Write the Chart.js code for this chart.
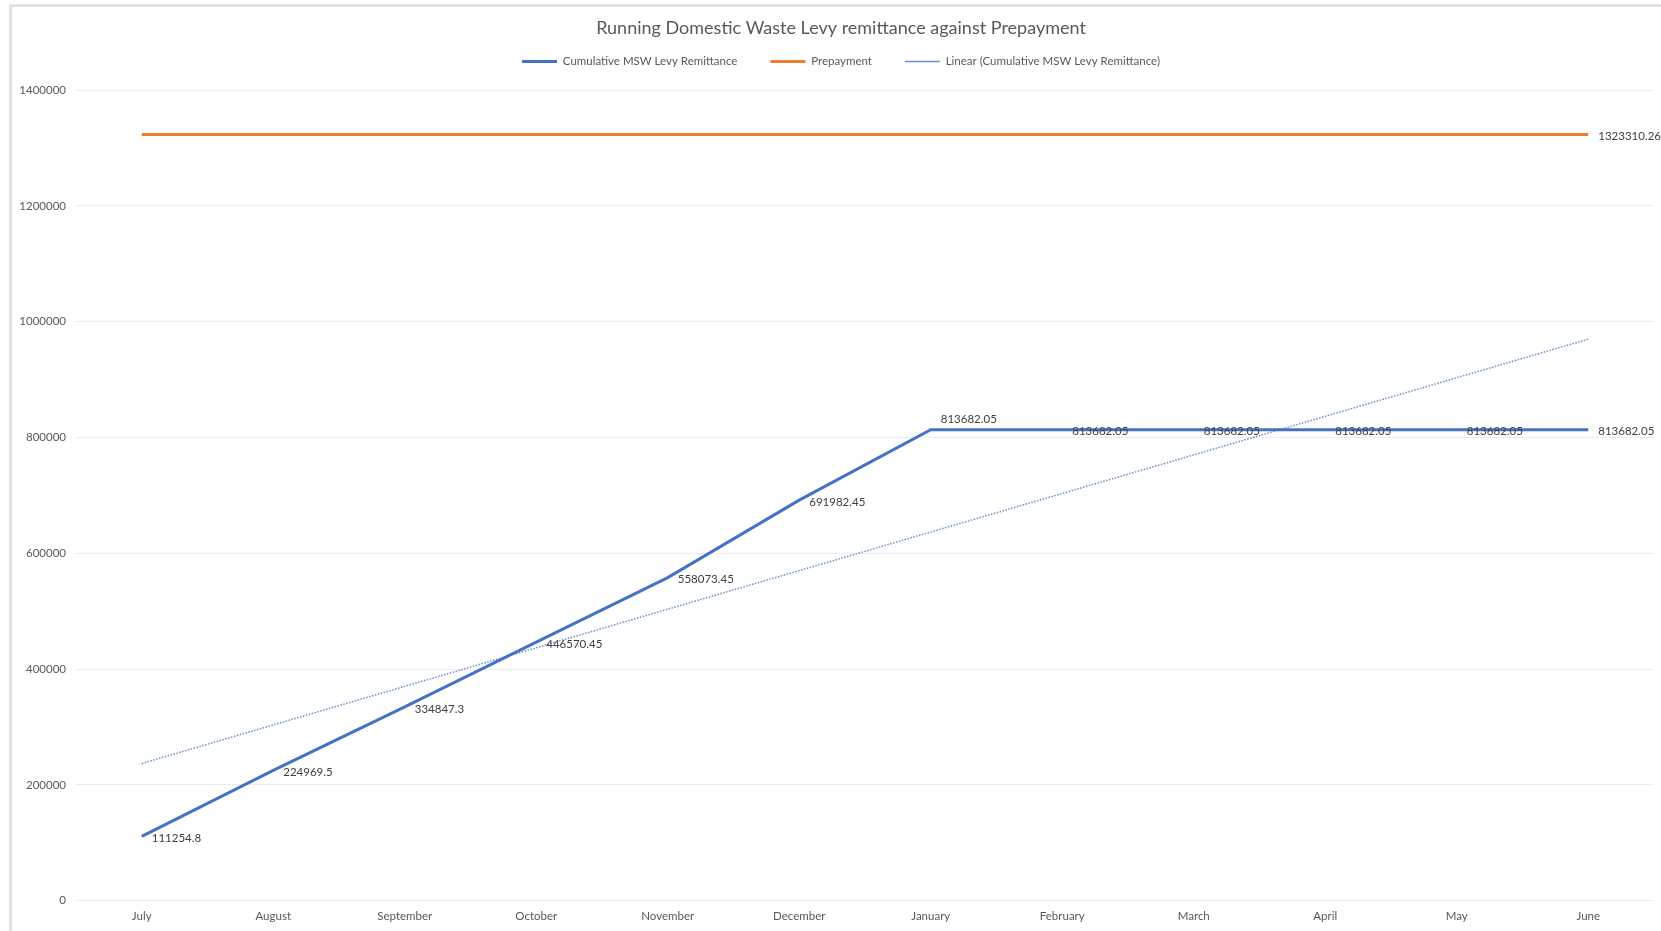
<!DOCTYPE html>
<html>
<head>
<meta charset="utf-8">
<script src="https://cdn.jsdelivr.net/npm/chart.js@4.4.1/dist/chart.umd.min.js"></script>
<style>
  html, body { margin: 0; padding: 0; background: #fff; overflow: hidden; }
  #frame { position: absolute; left: 9px; top: 4px; width: 1700px; height: 960px;
           border-left: 3px solid #e4e4e4; border-top: 3px solid #e4e4e4; }
  #wrap { position: absolute; left: 0; top: 0; width: 1661px; height: 931px; }
</style>
</head>
<body>
<div id="frame"></div>
<div id="wrap"><canvas id="myChart"></canvas></div>
<script>
const months = ["July", "August", "September", "October", "November", "December",
  "January", "February", "March", "April", "May", "June"];
const remittance = [111254.8, 224969.5, 334847.3, 446570.45, 558073.45, 691982.45,
  813682.05, 813682.05, 813682.05, 813682.05, 813682.05, 813682.05];
const prepayment = [1323310.26, 1323310.26, 1323310.26, 1323310.26, 1323310.26, 1323310.26,
  1323310.26, 1323310.26, 1323310.26, 1323310.26, 1323310.26, 1323310.26];
// trend line ends, middle left empty
const trend = [237000, null, null, null, null, null, null, null, null, null, null, 970000];
const yTicks = [0, 200000, 400000, 600000, 800000, 1000000, 1200000, 1400000];

const textGrey = "#595959";
const fontName = "Lato, 'Open Sans', sans-serif";

// draw value labels next to the points, like excel does
const valueLabels = {
  id: "valueLabels",
  afterDatasetsDraw(chart) {
    const c = chart.ctx;
    c.save();
    c.font = "11.5px " + fontName;
    c.fillStyle = "#404040";
    c.textBaseline = "middle";
    c.textAlign = "left";
    chart.data.datasets.forEach(function (ds, i) {
      if (!ds.showValues) return;
      const meta = chart.getDatasetMeta(i);
      meta.data.forEach(function (pt, j) {
        if (ds.showValues === "last" && j !== meta.data.length - 1) return;
        let dy = 2;
        if (i === 0 && j === 6) dy = -10;
        c.fillText(String(ds.data[j]), pt.x + 10, pt.y + dy);
      });
    });
    c.restore();
  },
};

// more room under the legend, and title + legend centred on the whole
// box (it runs past the right edge of the window)
const headerTweak = {
  id: "headerTweak",
  afterInit(chart) {
    const fit = chart.legend.fit;
    chart.legend.fit = function () {
      fit.call(this);
      this.height += 13;
    };
    [chart.legend, chart.titleBlock].forEach(function (box) {
      const draw = box.draw;
      box.draw = function () {
        chart.ctx.save();
        chart.ctx.translate(14, 0);
        draw.apply(this, arguments);
        chart.ctx.restore();
      };
    });
  },
};

const ctx = document.getElementById("myChart").getContext("2d");
const myChart = new Chart(ctx, {
  type: "line",
  data: {
    labels: months,
    datasets: [
      {
        label: "Cumulative MSW Levy Remittance",
        data: remittance,
        borderColor: "#4472C4",
        backgroundColor: "#4472C4",
        borderWidth: 3,
        pointRadius: 0,
        tension: 0,
        showValues: "all",
      },
      {
        label: "Prepayment",
        data: prepayment,
        borderColor: "#ED7D31",
        backgroundColor: "#ED7D31",
        borderWidth: 3,
        pointRadius: 0,
        tension: 0,
        showValues: "last",
      },
      {
        label: "Linear (Cumulative MSW Levy Remittance)",
        data: trend,
        borderColor: "rgba(68,114,196,0.8)",
        backgroundColor: "rgba(68,114,196,0.8)",
        borderWidth: 1.5,
        borderDash: [1.5, 1.5],
        pointRadius: 0,
        spanGaps: true,
        tension: 0,
      },
    ],
  },
  options: {
    responsive: true,
    maintainAspectRatio: false,
    animation: false,
    layout: { padding: { left: 0, right: 7, top: 0, bottom: -1.5 } },
    plugins: {
      title: {
        display: true,
        text: "Running Domestic Waste Levy remittance against Prepayment",
        color: textGrey,
        font: { family: fontName, size: 18, weight: "normal" },
        padding: { top: 17.8, bottom: -16.7 },
      },
      legend: {
        display: true,
        labels: {
          color: textGrey,
          font: { family: fontName, size: 11.5 },
          usePointStyle: true,
          pointStyle: "line",
          pointStyleWidth: 35,
          padding: 33,
        },
      },
      tooltip: { enabled: false },
    },
    scales: {
      x: {
        offset: true,
        grid: { display: false, drawTicks: false },
        border: { display: false },
        ticks: {
          color: textGrey,
          font: { family: fontName, size: 11.5 },
          padding: 9,
          maxRotation: 0,
          autoSkip: false,
        },
      },
      y: {
        min: 0,
        max: 1400000,
        afterBuildTicks(scale) {
          scale.ticks = yTicks.map(function (v) { return { value: v }; });
        },
        afterFit(scale) {
          scale.width = 76;
        },
        grid: { color: "#ececec", drawTicks: false },
        border: { display: false },
        ticks: {
          color: textGrey,
          font: { family: fontName, size: 11.5 },
          padding: 10,
          callback: function (v) { return String(v); },
        },
      },
    },
  },
  plugins: [valueLabels, headerTweak],
});
</script>
</body>
</html>
